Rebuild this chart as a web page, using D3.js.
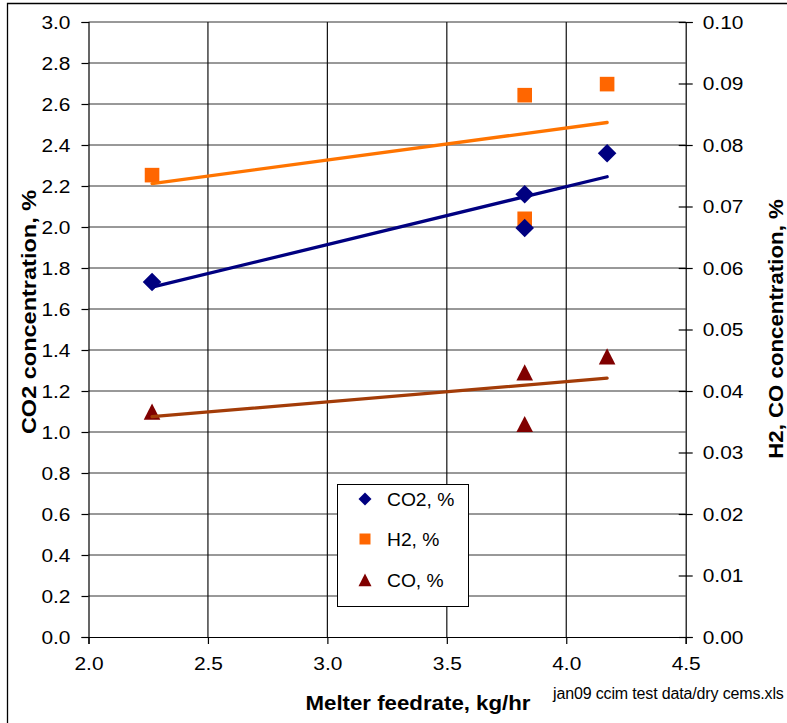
<!DOCTYPE html>
<html><head><meta charset="utf-8">
<script src="https://cdn.jsdelivr.net/npm/d3@7"></script>
<style>body{margin:0;background:#fff}svg{display:block;font-family:"Liberation Sans",Arial,sans-serif}</style>
</head><body><svg id="c" width="787" height="723"></svg>
<script>
const feedrate = [2.266, 3.826, 3.826, 4.171];
const co2 = [1.732, 2.160, 1.995, 2.360];
const feedrateH2 = [2.266, 3.826, 3.826, 4.171];
const h2 = [0.0751, 0.0881, 0.0680, 0.0899];
const feedrateCO = [2.266, 3.826, 3.826, 4.171];
const co = [0.0366, 0.0430, 0.0346, 0.0456];
const xTicks = [2.0, 2.5, 3.0, 3.5, 4.0, 4.5];
const yLeftTicks = [0,0.2,0.4,0.6,0.8,1.0,1.2,1.4,1.6,1.8,2.0,2.2,2.4,2.6,2.8,3.0];
const yRightTicks = [0,0.01,0.02,0.03,0.04,0.05,0.06,0.07,0.08,0.09,0.10];
const seriesNames = ["CO2, %", "H2, %", "CO, %"];

const svg = d3.select("#c");
const L = 88.5, R = 685.7, T = 22, B = 637;
const x = d3.scaleLinear().domain([2.0, 4.5]).range([L, R]);
const yL = d3.scaleLinear().domain([0, 3.0]).range([B, T]);
const yR = d3.scaleLinear().domain([0, 0.10]).range([B, T]);

// outer frame
svg.append("path").attr("d", "M7.5,730V3.5H800").attr("fill","none").attr("stroke","#000").attr("stroke-width",1.3);

// gridlines
const g = svg.append("g");
g.selectAll("line.h").data(yLeftTicks.slice(1)).join("line")
  .attr("x1", L).attr("x2", R).attr("y1", d=>yL(d)).attr("y2", d=>yL(d))
  .attr("stroke", "#333").attr("stroke-width", 1);
g.selectAll("line.v").data(xTicks.slice(1,-1)).join("line")
  .attr("y1", T).attr("y2", B).attr("x1", d=>x(d)).attr("x2", d=>x(d))
  .attr("stroke", "#111").attr("stroke-width", 1.2);

// axes
const fs = "19px", sx = 1.1;
const axL = svg.append("g").attr("transform", `translate(${L},0)`)
  .call(d3.axisLeft(yL).tickValues(yLeftTicks).tickFormat(d3.format(".1f")).tickSize(7).tickPadding(11));
const axR = svg.append("g").attr("transform", `translate(${R},0)`)
  .call(d3.axisRight(yR).tickValues(yRightTicks).tickFormat(d3.format(".2f")).tickSize(7).tickPadding(10));
axR.selectAll(".tick line").attr("x1", -7);
const axB = svg.append("g").attr("transform", `translate(0,${B})`)
  .call(d3.axisBottom(x).tickValues(xTicks).tickFormat(d3.format(".1f")).tickSize(7).tickPadding(19));
[axL, axR, axB].forEach(a => {
  a.selectAll("text").attr("font-size", fs).attr("fill", "#000").attr("font-family", "Liberation Sans, Arial, sans-serif");
  a.selectAll("line,path").attr("stroke", "#000").attr("stroke-width", 1.2);
});
[axL, axR].forEach(a => a.selectAll("text").each(function(){
  const t = d3.select(this); const xx = +t.attr("x");
  t.attr("x", 0).attr("transform", `translate(${xx},0) scale(${sx},1)`);
}));
axB.selectAll("text").each(function(){
  const t = d3.select(this); const yy = +t.attr("y");
  t.attr("y", 0).attr("dy", "0.35em").attr("transform", `translate(0,${yy}) scale(${sx},1)`);
});

// regression trendlines
function fit(xs, ys) {
  const mx = d3.mean(xs), my = d3.mean(ys);
  let sxy = 0, sxx = 0;
  xs.forEach((v,i)=>{ sxy += (v-mx)*(ys[i]-my); sxx += (v-mx)*(v-mx); });
  const b = sxy/sxx, a = my - b*mx;
  const x0 = d3.min(xs), x1 = d3.max(xs);
  return [[x0, a+b*x0],[x1, a+b*x1]];
}
const lineFor = (ys) => d3.line().x(d=>x(d[0])).y(d=>ys(d[1]));
const trends = [
  {pts: fit(feedrate, co2), s: yL, c: "#000080"},
  {pts: fit(feedrateH2, h2), s: yR, c: "#FF7400"},
  {pts: fit(feedrateCO, co), s: yR, c: "#A33C08"}
];

// markers
const diamond = (s) => `M0,${-s}L${s},0L0,${s}L${-s},0Z`;
const square = (s) => `M${-s},${-s}H${s}V${s}H${-s}Z`;
const tri = (s) => `M0,${-s}L${s},${s*0.95}H${-s}Z`;

svg.append("g").selectAll("path").data(feedrateH2.map((v,i)=>[v,h2[i]])).join("path")
  .attr("transform", d=>`translate(${x(d[0])},${yR(d[1])})`).attr("d", square(7.3)).attr("fill", "#FF6600");
svg.append("g").selectAll("path").data(feedrate.map((v,i)=>[v,co2[i]])).join("path")
  .attr("transform", d=>`translate(${x(d[0])},${yL(d[1])})`).attr("d", diamond(9.3)).attr("fill", "#000080");
svg.append("g").selectAll("path").data(feedrateCO.map((v,i)=>[v,co[i]])).join("path")
  .attr("transform", d=>`translate(${x(d[0])},${yR(d[1])})`).attr("d", tri(8.3)).attr("fill", "#800000");

trends.forEach(t => {
  svg.append("path").datum(t.pts).attr("d", lineFor(t.s)).attr("stroke", t.c)
    .attr("stroke-width", 3.3).attr("fill", "none").attr("stroke-linecap", "round");
});

// legend
const lg = svg.append("g");
lg.append("rect").attr("x", 337.5).attr("y", 484.5).attr("width", 131).attr("height", 122)
  .attr("fill", "#fff").attr("stroke", "#000").attr("stroke-width", 1);
const rows = [499, 539, 580];
const lmark = [diamond(6.5), square(5.5), tri(6.5)];
const lcol = ["#000080", "#FF6600", "#800000"];
seriesNames.forEach((n,i) => {
  lg.append("path").attr("transform", `translate(365,${rows[i]})`).attr("d", lmark[i]).attr("fill", lcol[i]);
  lg.append("text").attr("transform", `translate(387,${rows[i]+6.5}) scale(1.07,1)`)
    .attr("font-size", "18px").text(n);
});

// titles
svg.append("text").attr("transform", "translate(418,710) scale(1.06,1)").attr("text-anchor", "middle")
  .attr("font-weight", "bold").attr("font-size", "21px").text("Melter feedrate, kg/hr");
svg.append("text").attr("transform", "translate(36,312) rotate(-90) scale(1.12,1)").attr("text-anchor", "middle")
  .attr("font-weight", "bold").attr("font-size", "21px").text("CO2 concentration, %");
svg.append("text").attr("transform", "translate(783,329) rotate(-90) scale(1.06,1)").attr("text-anchor", "middle")
  .attr("font-weight", "bold").attr("font-size", "21px").text("H2, CO concentration, %");
svg.append("text").attr("x", 553).attr("y", 699).attr("font-size", "16px").attr("letter-spacing", "-0.15")
  .text("jan09 ccim test data/dry cems.xls");
</script></body></html>
